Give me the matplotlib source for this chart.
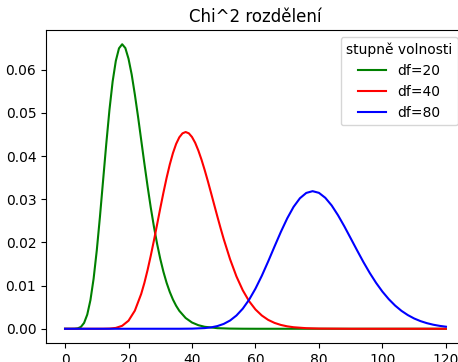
import matplotlib

matplotlib.use("Agg")
import matplotlib.pyplot as plt

# hodnoty
x_df20 = [0, 2, 3, 4, 5, 6, 7, 8, 9, 10, 11, 12, 13, 14, 15, 16, 17, 18, 19, 20,
          21, 22, 23, 24, 25, 26, 27, 28, 29, 30, 31, 32, 33, 34, 35, 36, 38, 40,
          42, 44, 48, 52, 56, 60, 80, 100, 120]
y_df20 = [0.0, 0.0, 0.000012, 0.0001, 0.00043, 0.00135, 0.00328, 0.00662, 0.01158,
          0.01813, 0.02594, 0.03442, 0.04288, 0.05073, 0.05727, 0.06204, 0.06495,
          0.06590, 0.06502, 0.06255, 0.05889, 0.05424, 0.04914, 0.04371, 0.03828,
          0.03304, 0.02812, 0.02369, 0.01970, 0.01621, 0.01320, 0.01065, 0.00853,
          0.00677, 0.00533, 0.00416, 0.00249, 0.00145, 0.00083, 0.00046, 0.00014,
          0.00004, 0.00001, 0.0, 0.0, 0.0, 0.0]

x_df40 = [0, 6, 10, 12, 14, 16, 18, 20, 22, 24, 25, 26, 27, 28, 29, 30, 31, 32, 33,
          34, 35, 36, 37, 38, 39, 40, 41, 42, 43, 44, 45, 46, 47, 48, 49, 50, 52,
          54, 56, 58, 60, 62, 64, 66, 68, 70, 72, 76, 80, 90, 100, 120]
y_df40 = [0.0, 0.0, 0.0, 0.000006, 0.000043, 0.000199, 0.000685, 0.001866,
          0.004198, 0.008071, 0.01062, 0.01358, 0.01688, 0.02042, 0.02413, 0.02788,
          0.03152, 0.03495, 0.03804, 0.04069, 0.04281, 0.04434, 0.04526, 0.04557,
          0.04527, 0.04442, 0.04308, 0.04129, 0.03916, 0.03676, 0.03418, 0.03147,
          0.02872, 0.02599, 0.02332, 0.02076, 0.01610, 0.01213, 0.00891, 0.00638,
          0.00447, 0.00307, 0.00206, 0.00136, 0.000884, 0.000564, 0.000354,
          0.000134, 0.000048, 0.0, 0.0, 0.0]

x_df80 = [0, 20, 36, 40, 44, 46, 48, 50, 52, 54, 56, 58, 60, 62, 64, 66, 68, 70,
          72, 74, 76, 78, 80, 82, 84, 86, 88, 90, 92, 94, 96, 98, 100, 102, 104,
          106, 108, 110, 112, 114, 116, 118, 120]
y_df80 = [0.0, 0.0, 0.0000034, 0.000028, 0.000155, 0.000322, 0.000623, 0.001126,
          0.001913, 0.003068, 0.004657, 0.006735, 0.009297, 0.01228, 0.01559,
          0.01905, 0.02244, 0.02557, 0.02823, 0.03023, 0.03146, 0.03187, 0.03148,
          0.03033, 0.02857, 0.02630, 0.02372, 0.02096, 0.01818, 0.01546, 0.01293,
          0.01063, 0.00860, 0.00685, 0.00537, 0.00415, 0.00317, 0.00238, 0.00177,
          0.00130, 0.000942, 0.000675, 0.000478]

fig = plt.figure(figsize=(4.58, 3.62), dpi=100)
ax = fig.add_axes([0.1004, 0.0525, 0.9148, 0.8646])

ax.plot(x_df20, y_df20, color="g", label="df=20")
ax.plot(x_df40, y_df40, color="r", label="df=40")
ax.plot(x_df80, y_df80, color="b", label="df=80")

ax.set_title("Chi^2 rozdělení")
ax.legend(title="stupně volnosti", loc="upper right")

fig.savefig("out.png", dpi=100)
